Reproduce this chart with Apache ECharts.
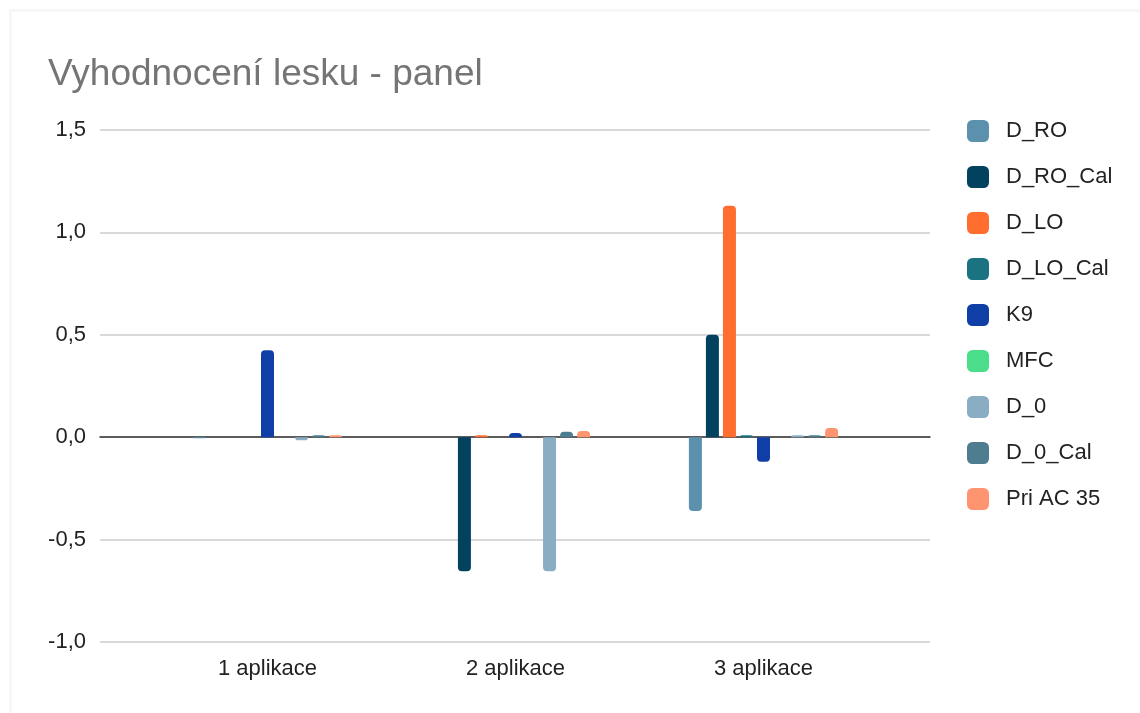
<!DOCTYPE html>
<html>
<head>
<meta charset="utf-8">
<script src="https://cdn.jsdelivr.net/npm/echarts@6/dist/echarts.min.js"></script>
<style>
html,body{margin:0;padding:0;background:#fff;}
#c{width:1140px;height:713px;}
</style>
</head>
<body>
<div id="c"></div>
<script>
const categories = ['1 aplikace', '2 aplikace', '3 aplikace'];
const seriesNames = ['D_RO', 'D_RO_Cal', 'D_LO', 'D_LO_Cal', 'K9', 'MFC', 'D_0', 'D_0_Cal', 'Pri AC 35'];
const D_RO      = [-0.005, 0, -0.36];
const D_RO_Cal  = [0, -0.655, 0.5];
const D_LO      = [0, 0.01, 1.13];
const D_LO_Cal  = [0, 0, 0.01];
const K9        = [0.425, 0.02, -0.12];
const MFC       = [0, 0, 0];
const D_0       = [-0.015, -0.655, 0.01];
const D_0_Cal   = [0.01, 0.027, 0.01];
const Pri_AC_35 = [0.01, 0.03, 0.045];
const seriesValues = [D_RO, D_RO_Cal, D_LO, D_LO_Cal, K9, MFC, D_0, D_0_Cal, Pri_AC_35];
const colors = ['#5b91ad', '#03425f', '#ff6d2f', '#1b7382', '#0f3fa6', '#4ade8a', '#89aec3', '#4d7d8e', '#ff9570'];
const yTicks = { min: -1, max: 1.5, interval: 0.5 };

const FONT = 'Liberation Sans, Arial, sans-serif';
const chart = echarts.init(document.getElementById('c'));

const series = seriesNames.map((name, i) => ({
  name: name,
  type: 'bar',
  xAxisIndex: 1,
  yAxisIndex: 1,
  barWidth: 13,
  barGap: '31%',
  itemStyle: { color: colors[i] },
  data: seriesValues[i].map(v => ({
    value: v,
    itemStyle: { borderRadius: v >= 0 ? [4, 4, 0, 0] : [0, 0, 4, 4] }
  }))
}));

chart.setOption({
  animation: false,
  backgroundColor: '#ffffff',
  color: colors,
  graphic: [
    { type: 'rect', shape: { x: 9, y: 9, width: 1131, height: 3 }, style: { fill: '#f6f7f8' }, silent: true },
    { type: 'rect', shape: { x: 9, y: 9, width: 3, height: 704 }, style: { fill: '#f6f7f8' }, silent: true }
  ],
  title: {
    text: 'Vyhodnocení lesku - panel',
    left: 48,
    top: 56,
    padding: 0,
    textStyle: { fontFamily: FONT, fontSize: 37, fontWeight: 'normal', color: '#757575' }
  },
  legend: {
    orient: 'vertical',
    left: 967,
    top: 120,
    padding: 0,
    itemWidth: 22,
    itemHeight: 22,
    itemGap: 24,
    icon: 'roundRect',
    data: seriesNames,
    textStyle: { fontFamily: FONT, fontSize: 22, color: '#222222', padding: [0, 0, 0, 12] }
  },
  grid: [
    { left: 100, right: 210, top: 130, bottom: 71 },
    { left: 143.5, right: 252.5, top: 130, bottom: 71 }
  ],
  xAxis: [
    {
      gridIndex: 0, type: 'value', min: 0, max: 1,
      axisLabel: { show: false }, axisTick: { show: false }, splitLine: { show: false },
      axisLine: { show: true, onZero: true, lineStyle: { color: '#333333', width: 1.5 } }
    },
    {
      gridIndex: 1, type: 'category', data: categories,
      axisLine: { show: false }, axisTick: { show: false },
      axisLabel: { margin: 16, fontFamily: FONT, fontSize: 22, color: '#222222' }
    }
  ],
  yAxis: [
    {
      gridIndex: 0, type: 'value', min: yTicks.min, max: yTicks.max, interval: yTicks.interval,
      axisLine: { show: false }, axisTick: { show: false },
      splitLine: { lineStyle: { color: '#cccccc', width: 1.5 } },
      axisLabel: {
        margin: 14, fontFamily: FONT, fontSize: 22, color: '#222222',
        padding: [4, 0, 0, 0],
        formatter: v => v.toFixed(1).replace('.', ',')
      }
    },
    {
      gridIndex: 1, type: 'value', min: yTicks.min, max: yTicks.max, interval: yTicks.interval,
      show: false, splitLine: { show: false }
    }
  ],
  series: series
});
</script>
</body>
</html>
